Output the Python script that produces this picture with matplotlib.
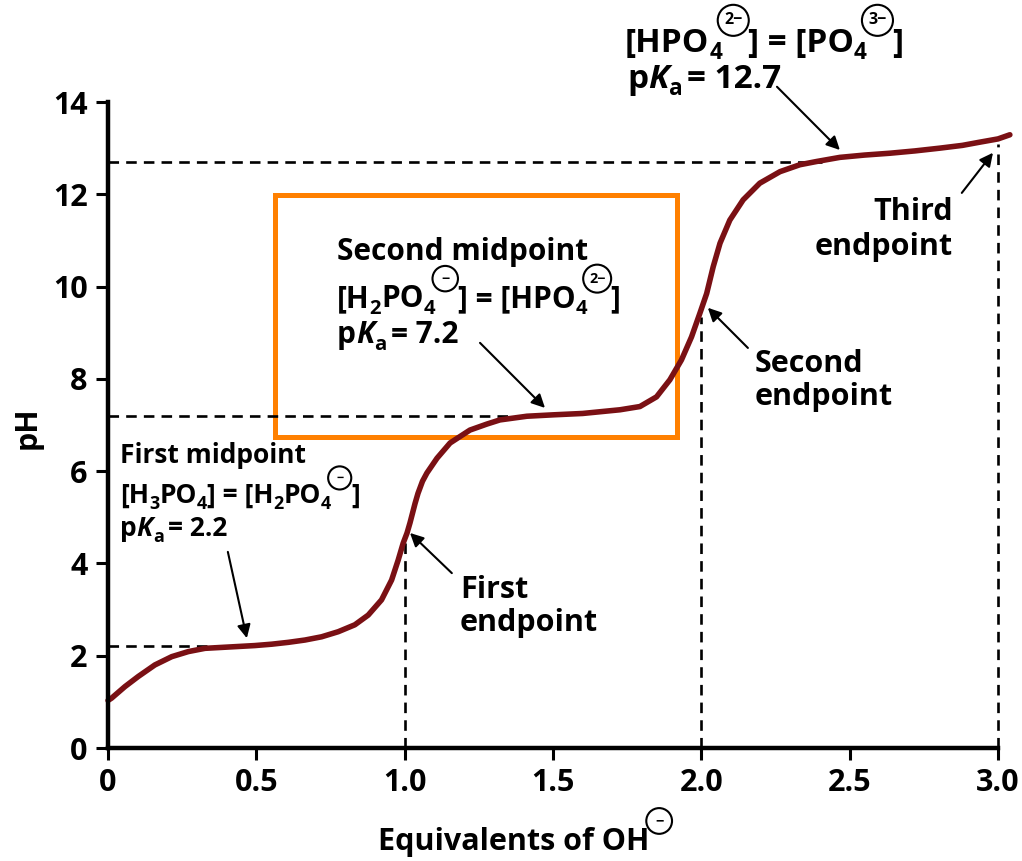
import matplotlib.pyplot as plt
from matplotlib.patches import Rectangle
from matplotlib.transforms import IdentityTransform

plt.rcParams['font.family'] = ['Open Sans', 'DejaVu Sans']
plt.rcParams['font.weight'] = 'bold'

# titration curve
equiv = [0.0, 0.012, 0.057, 0.102, 0.158, 0.215, 0.271, 0.327, 0.383, 0.439,
         0.495, 0.552, 0.608, 0.664, 0.720, 0.776, 0.832, 0.877, 0.922, 0.956,
         0.978, 0.995, 1.008, 1.018, 1.035, 1.045, 1.060, 1.075, 1.109, 1.153,
         1.22, 1.277, 1.321, 1.412, 1.5, 1.6, 1.726, 1.793, 1.849, 1.894,
         1.933, 1.967, 1.995, 2.018, 2.040, 2.063, 2.096, 2.141, 2.197, 2.265,
         2.332, 2.388, 2.467, 2.55, 2.636, 2.72, 2.804, 2.88, 2.939, 3.0, 3.04]
ph = [1.03, 1.08, 1.33, 1.55, 1.80, 1.98, 2.09, 2.16, 2.18, 2.20,
      2.22, 2.25, 2.29, 2.34, 2.41, 2.52, 2.67, 2.88, 3.21, 3.64,
      4.07, 4.44, 4.66, 4.88, 5.30, 5.52, 5.78, 5.96, 6.28, 6.61,
      6.89, 7.02, 7.11, 7.19, 7.22, 7.25, 7.33, 7.40, 7.61, 7.98,
      8.41, 8.91, 9.42, 9.85, 10.43, 10.94, 11.44, 11.88, 12.24, 12.49,
      12.64, 12.71, 12.80, 12.85, 12.89, 12.94, 13.0, 13.06, 13.13, 13.2, 13.29]

pka = [2.2, 7.2, 12.7]
pka_dash_end = [0.44, 1.466, 2.406]
endpoint_x = [1.0, 2.0, 3.0]
endpoint_ph = [4.57, 9.35, 13.1]

x_ticks = [0, 0.5, 1.0, 1.5, 2.0, 2.5, 3.0]
x_tick_labels = ['0', '0.5', '1.0', '1.5', '2.0', '2.5', '3.0']
y_ticks = [0, 2, 4, 6, 8, 10, 12, 14]

W, H = 1022, 861
fig = plt.figure(figsize=(W / 100, H / 100), dpi=100)
ax = fig.add_axes([108 / W, 113 / H, 890 / W, 646 / H])
renderer = fig.canvas.get_renderer()

dash = dict(color='black', lw=1.9, dashes=(4, 2.7))
for p, xe in zip(pka, pka_dash_end):
    ax.plot([0, xe], [p, p], **dash)
for xe, ye in zip(endpoint_x, endpoint_ph):
    ax.plot([xe, xe], [0, ye], clip_on=False, **dash)

ax.plot(equiv, ph, color='#7a1014', lw=4, clip_on=False,
        solid_capstyle='round', solid_joinstyle='round')

ax.add_patch(Rectangle((0.563, 6.74), 1.355, 5.25, fill=False,
                       edgecolor='#ff8000', lw=3.6, clip_on=False))

ax.set_xlim(0, 3.0)
ax.set_ylim(0, 14)
ax.set_xticks(x_ticks)
ax.set_xticklabels(x_tick_labels)
ax.set_yticks(y_ticks)
for s in ['top', 'right']:
    ax.spines[s].set_visible(False)
for s in ['left', 'bottom']:
    ax.spines[s].set_linewidth(3.2)
ax.tick_params(direction='out', length=8.6, width=2.2, labelsize=22, pad=6)


def arrow(head, tail):
    ax.annotate('', xy=head, xytext=tail, annotation_clip=False,
                arrowprops=dict(arrowstyle='-|>', color='black', lw=1.5,
                                mutation_scale=20, shrinkA=0, shrinkB=0))


arrow((0.468, 2.38), (0.404, 4.25))
arrow((1.018, 4.66), (1.159, 3.79))
arrow((1.473, 7.37), (1.254, 8.78))
arrow((2.022, 9.54), (2.157, 8.67))
arrow((2.467, 12.96), (2.255, 14.33))
arrow((2.983, 12.9), (2.878, 12.03))


# text made of pieces: normal, subscript, italic, circled charge
def rich(x, y, parts, size=20, ha='left'):
    px = size * 100 / 72
    cx = 0
    arts = []
    for s, kind in parts:
        if kind == 'gap':
            cx += s * px
            continue
        if kind == 'circ':
            t = fig.text(0, 0, s, transform=IdentityTransform(), fontsize=size * 0.48,
                         ha='center', va='center',
                         bbox=dict(boxstyle='circle,pad=0.4', fc='none', ec='black', lw=1.5))
            arts.append((t, cx + 0.33 * px, 0.95 * px))
            cx += 0.76 * px
            continue
        fs = size
        dy = 0
        style = 'normal'
        if kind == 'sub':
            fs = size * 0.68
            dy = -0.22 * px
        if kind == 'it':
            style = 'italic'
        t = fig.text(0, 0, s, transform=IdentityTransform(), fontsize=fs,
                     fontstyle=style, va='baseline')
        arts.append((t, cx, dy))
        cx += t.get_window_extent(renderer).width
    shift = 0
    if ha == 'center':
        shift = -cx / 2
    if ha == 'right':
        shift = -cx
    for t, ox, dy in arts:
        t.set_position((x + ox + shift, H - y + dy))


def pka_line(x, y, val, size):
    rich(x, y, [('p', 'n'), ('K', 'it'), ('a', 'sub'), (0.15, 'gap'), ('= ' + val, 'n')], size)


# first midpoint
rich(120, 463, [('First midpoint', 'n')], 19)
rich(120, 503, [('[H', 'n'), ('3', 'sub'), ('PO', 'n'), ('4', 'sub'), ('] = [H', 'n'),
                ('2', 'sub'), ('PO', 'n'), ('4', 'sub'), ('\u2212', 'circ'), (']', 'n')], 19)
pka_line(120, 536, '2.2', 19)

# second midpoint
rich(337, 260, [('Second midpoint', 'n')], 21.5)
rich(337, 307, [('[H', 'n'), ('2', 'sub'), ('PO', 'n'), ('4', 'sub'), ('\u2212', 'circ'),
                ('] = [HPO', 'n'), ('4', 'sub'), ('2\u2212', 'circ'), (']', 'n')], 21.5)
pka_line(337, 343, '7.2', 21.5)

# third midpoint
rich(625, 52, [('[HPO', 'n'), ('4', 'sub'), ('2\u2212', 'circ'), ('] = [PO', 'n'),
               ('4', 'sub'), ('3\u2212', 'circ'), (']', 'n')], 24)
pka_line(627, 88, '12.7', 24)

# endpoints
rich(460, 598, [('First', 'n')], 22)
rich(460, 631, [('endpoint', 'n')], 22)
rich(755, 372, [('Second', 'n')], 22)
rich(755, 405, [('endpoint', 'n')], 22)
rich(953, 220, [('Third', 'n')], 22, ha='right')
rich(953, 255, [('endpoint', 'n')], 22, ha='right')

# axis labels
rich(525, 850, [('Equivalents of OH', 'n'), ('\u2212', 'circ')], 22, ha='center')
fig.text(28, H - 428, 'pH', transform=IdentityTransform(), fontsize=22,
         rotation=90, ha='center', va='center')

fig.savefig('out.png')
